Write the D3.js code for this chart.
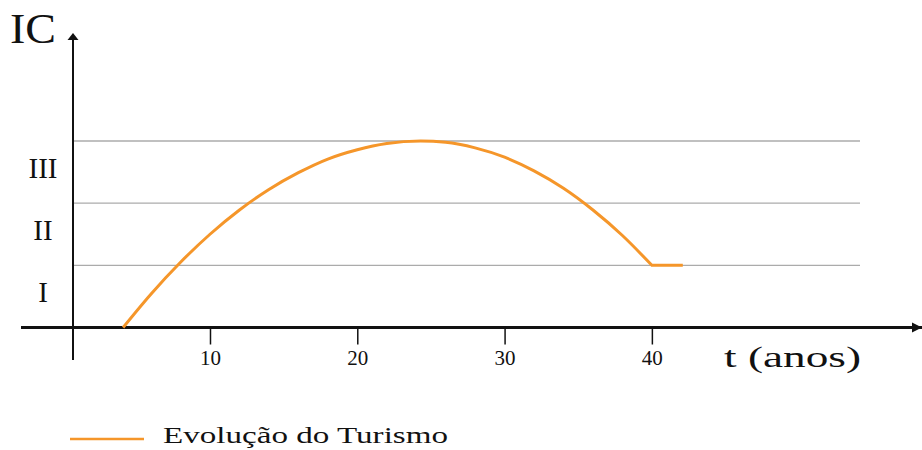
<!DOCTYPE html>
<html>
<head>
<meta charset="utf-8">
<script src="https://cdn.jsdelivr.net/npm/d3@7"></script>
<style>
  html, body { margin: 0; padding: 0; background: #fff; }
  svg { display: block; }
  svg text { font-family: "Times New Roman", "Liberation Serif", Tinos, serif; fill: #111; }
</style>
</head>
<body>
<svg id="chart" width="922" height="450"></svg>
<script>
// ---- data ----
const years = [4.1, 6, 8, 10, 12, 14, 16, 18, 20, 22, 24.3, 26, 28, 30, 32, 34, 36, 38, 40, 42.1];
const turismo = [0, 0.54, 1.05, 1.50, 1.89, 2.22, 2.49, 2.71, 2.86, 2.96, 3.0, 2.98, 2.89, 2.74, 2.52, 2.24, 1.89, 1.48, 1.0, 1.0];
const xTicks = [10, 20, 30, 40];
const levels = [1, 2, 3];
const levelLabels = ["I", "II", "III"];
const levelLabelPos = [0.5, 1.5, 2.5];
const seriesName = "Evolução do Turismo";
const xTitle = "t (anos)";
const yTitle = "IC";

// ---- layout ----
const FONT = "'Times New Roman', 'Liberation Serif', Tinos, serif";
const svg = d3.select("#chart");
const orange = "#f5962a";
const x = d3.scaleLinear().domain([0, 58]).range([62.7, 917.0]);
const y = d3.scaleLinear().domain([0, 3]).range([327.5, 141]);
const yAxisX = 73;
const axisY = y(0);

// grid lines
svg.append("g").selectAll("line").data(levels).join("line")
  .attr("x1", yAxisX).attr("x2", 860)
  .attr("y1", d => y(d)).attr("y2", d => y(d))
  .attr("stroke", "#ababab").attr("stroke-width", 1.3);

// level labels
svg.append("g").selectAll("text").data(levelLabels).join("text")
  .attr("x", 43)
  .attr("y", (d, i) => y(levelLabelPos[i]) + 6)
  .attr("text-anchor", "middle")
  .attr("font-family", FONT)
  .attr("font-size", 29)
  .text(d => d);

// x axis ticks & labels
const xAxis = d3.axisBottom(x).tickValues(xTicks).tickSize(17).tickPadding(6).tickFormat(d3.format("d"));
const gx = svg.append("g").attr("transform", `translate(0,${axisY})`).call(xAxis);
gx.select(".domain").remove();
gx.selectAll(".tick line").attr("stroke", "#111").attr("stroke-width", 1.5);
gx.selectAll(".tick text")
  .attr("font-family", FONT)
  .attr("font-size", 21).attr("fill", "#111");

// x axis line with arrow
svg.append("line").attr("x1", 21).attr("x2", 922).attr("y1", axisY).attr("y2", axisY)
  .attr("stroke", "#111").attr("stroke-width", 2.8);
svg.append("path")
  .attr("d", `M922,${axisY} L912,${axisY - 5} L912,${axisY + 5} Z`)
  .attr("fill", "#111");

// y axis line with arrow
svg.append("line").attr("x1", yAxisX).attr("x2", yAxisX).attr("y1", 38).attr("y2", 360)
  .attr("stroke", "#111").attr("stroke-width", 2);
svg.append("path")
  .attr("d", `M${yAxisX},33 L${yAxisX - 5.5},40 L${yAxisX + 5.5},40 Z`)
  .attr("fill", "#111");

// axis titles
svg.append("text").attr("x", 10).attr("y", 43).attr("font-size", 42).attr("font-family", FONT)
  .attr("textLength", 46).attr("lengthAdjust", "spacingAndGlyphs").text(yTitle);
svg.append("text").attr("x", 724).attr("y", 367).attr("font-size", 30).attr("font-family", FONT)
  .attr("textLength", 137).attr("lengthAdjust", "spacingAndGlyphs").text(xTitle);

// series line: smooth arc up to t=40, then straight plateau
const pts = years.map((t, i) => [t, turismo[i]]);
const splitIdx = years.indexOf(40);
const arcPts = pts.slice(0, splitIdx + 1);
const flatPts = pts.slice(splitIdx);
const smooth = d3.line().x(d => x(d[0])).y(d => y(d[1])).curve(d3.curveMonotoneX);
const straight = d3.line().x(d => x(d[0])).y(d => y(d[1]));
svg.append("path")
  .attr("d", smooth(arcPts) + straight(flatPts).replace(/^M/, "L"))
  .attr("fill", "none")
  .attr("stroke", orange)
  .attr("stroke-width", 3)
  .attr("stroke-linejoin", "miter");

// legend
const lg = svg.append("g");
lg.append("line").attr("x1", 70).attr("x2", 144).attr("y1", 439).attr("y2", 439)
  .attr("stroke", orange).attr("stroke-width", 2.6);
lg.append("text").attr("x", 163).attr("y", 443).attr("font-size", 23).attr("font-family", FONT)
  .attr("textLength", 285).attr("lengthAdjust", "spacingAndGlyphs").text(seriesName);
</script>
</body>
</html>
